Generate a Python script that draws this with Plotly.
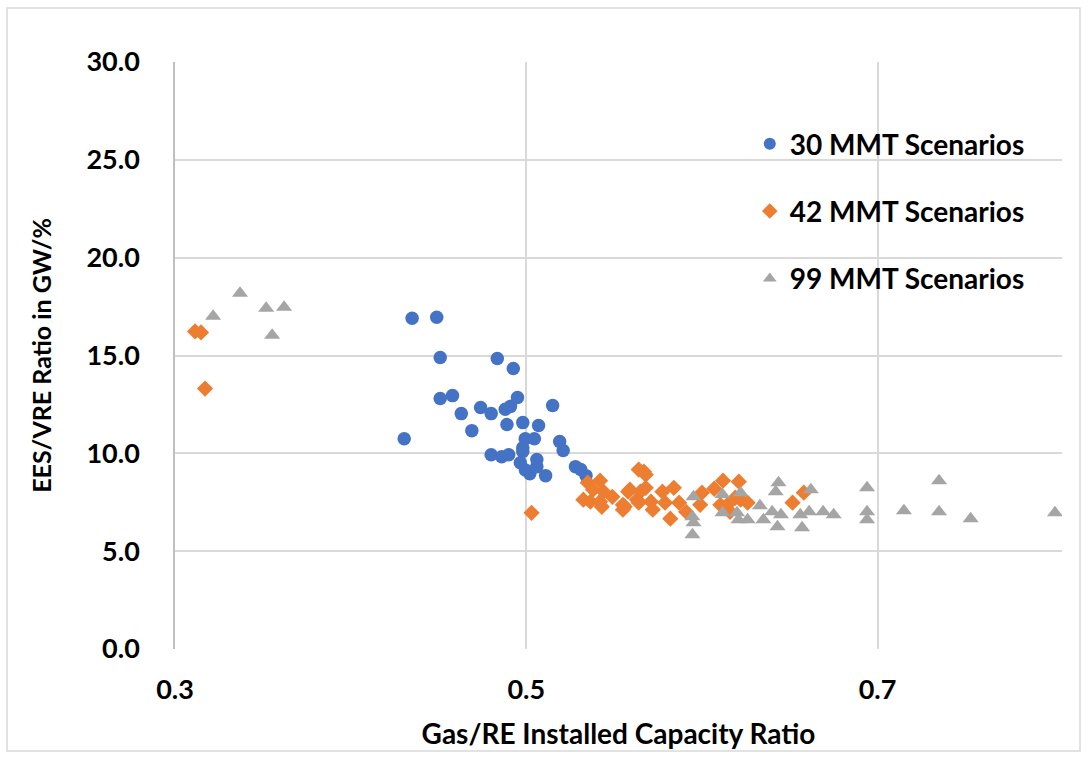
import plotly.graph_objects as go

# 30 MMT Scenarios
x30 = [0.435, 0.449, 0.451, 0.4835, 0.4926, 0.451, 0.458, 0.463, 0.474, 0.480,
       0.488, 0.491, 0.495, 0.515, 0.469, 0.489, 0.498, 0.507, 0.4305, 0.4994,
       0.5046, 0.498, 0.519, 0.521, 0.480, 0.486, 0.490, 0.498, 0.4966, 0.506,
       0.4995, 0.502, 0.506, 0.511, 0.528, 0.531, 0.534]
y30 = [16.90, 16.95, 14.90, 14.85, 14.34, 12.80, 12.95, 12.03, 12.34, 12.03,
       12.25, 12.40, 12.85, 12.44, 11.16, 11.47, 11.57, 11.42, 10.75, 10.75,
       10.75, 10.29, 10.60, 10.14, 9.93, 9.83, 9.93, 10.09, 9.52, 9.68,
       9.15, 8.96, 9.32, 8.86, 9.32, 9.17, 8.86]

# 42 MMT Scenarios
x42 = [0.3114, 0.3148, 0.3171, 0.503, 0.535, 0.542, 0.538, 0.544, 0.5325, 0.5365,
       0.542, 0.549, 0.543, 0.555, 0.559, 0.563, 0.564, 0.555, 0.567, 0.568,
       0.558, 0.565, 0.568, 0.556, 0.564, 0.571, 0.572, 0.5775, 0.584, 0.579,
       0.587, 0.582, 0.591, 0.600, 0.599, 0.607, 0.612, 0.6105, 0.619, 0.621,
       0.616, 0.622, 0.626, 0.6145, 0.6516, 0.658]
y42 = [16.23, 16.18, 13.31, 6.96, 8.50, 8.60, 8.14, 8.04, 7.63, 7.53,
       7.53, 7.78, 7.27, 7.37, 8.14, 7.63, 9.17, 7.12, 9.06, 8.91,
       8.04, 8.04, 8.24, 7.27, 7.48, 7.53, 7.12, 8.04, 8.24, 7.48,
       7.48, 6.66, 7.01, 7.99, 7.37, 8.19, 8.60, 7.37, 7.73, 8.55,
       7.01, 7.63, 7.48, 7.37, 7.48, 7.99]

# 99 MMT Scenarios
x99 = [0.3217, 0.337, 0.3519, 0.3621, 0.3553, 0.5952, 0.5946, 0.5952, 0.5946, 0.6117,
       0.6117, 0.620, 0.6208, 0.622, 0.626, 0.633, 0.6436, 0.642, 0.640, 0.635,
       0.645, 0.643, 0.656, 0.661, 0.657, 0.662, 0.669, 0.675, 0.694, 0.694,
       0.694, 0.715, 0.735, 0.735, 0.753, 0.801]
y99 = [17.00, 18.18, 17.41, 17.46, 16.03, 7.78, 6.76, 6.45, 5.84, 7.89,
       6.96, 6.96, 6.61, 7.99, 6.61, 7.32, 8.50, 8.04, 7.01, 6.61,
       6.86, 6.25, 6.86, 7.01, 6.20, 8.14, 7.01, 6.86, 8.24, 7.01,
       6.61, 7.07, 8.60, 7.01, 6.66, 6.96]

names = ["30 MMT Scenarios", "42 MMT Scenarios", "99 MMT Scenarios"]
x_ticks = [0.3, 0.5, 0.7]

FONT = "Lato"
fig = go.Figure()
fig.add_trace(go.Scatter(x=x30, y=y30, mode="markers", name=names[0], legendgroup="a",
                         marker=dict(symbol="circle", size=13.5, color="#4472C4")))
fig.add_trace(go.Scatter(x=x42, y=y42, mode="markers", name=names[1], legendgroup="b",
                         marker=dict(symbol="diamond", size=12.5, color="#ED7D31")))
fig.add_trace(go.Scatter(x=x99, y=y99, mode="markers", name=names[2], legendgroup="c",
                         marker=dict(symbol="triangle-up", size=14, color="#A5A5A5")))

fig.update_layout(
    width=1089, height=758,
    margin=dict(l=175, r=27, t=62, b=109),
    paper_bgcolor="white", plot_bgcolor="white",
    font=dict(family=FONT, size=26, color="black"),
    showlegend=True,
    legend=dict(x=0.648, y=0.903, xanchor="left", yanchor="top",
                font=dict(family=FONT, size=28, color="black", weight="bold"),
                tracegroupgap=28, itemsizing="constant", bgcolor="rgba(0,0,0,0)"),
    hovermode=False,
    xaxis=dict(range=[0.3, 0.805], tickvals=x_ticks, ticktext=["0.3", "0.5", "0.7"],
               showgrid=True, gridcolor="#D9D9D9", gridwidth=1.5, zeroline=False,
               showline=False, ticks="", ticklabelstandoff=22,
               tickfont=dict(family=FONT, size=27, weight="bold"),
               title=dict(text="<b>Gas/RE Installed Capacity Ratio</b>", standoff=20,
                          font=dict(family=FONT, size=28))),
    yaxis=dict(range=[0, 30], dtick=5, tickformat=".1f",
               showgrid=True, gridcolor="#D9D9D9", gridwidth=1.5, zeroline=False,
               showline=True, linecolor="#BFBFBF", linewidth=1.5, ticks="",
               ticklabelstandoff=28,
               tickfont=dict(family=FONT, size=27, weight="bold"),
               title=dict(text="<b>EES/VRE Ratio in GW/%</b>", standoff=28,
                          font=dict(family=FONT, size=25))),
    shapes=[dict(type="rect", xref="paper", yref="paper",
                 x0=-0.1894, x1=1.0203, y0=-0.1738, y1=1.092,
                 line=dict(color="#D9D9D9", width=1.5), fillcolor="rgba(0,0,0,0)",
                 layer="below")],
)

fig.write_html("out.html")
